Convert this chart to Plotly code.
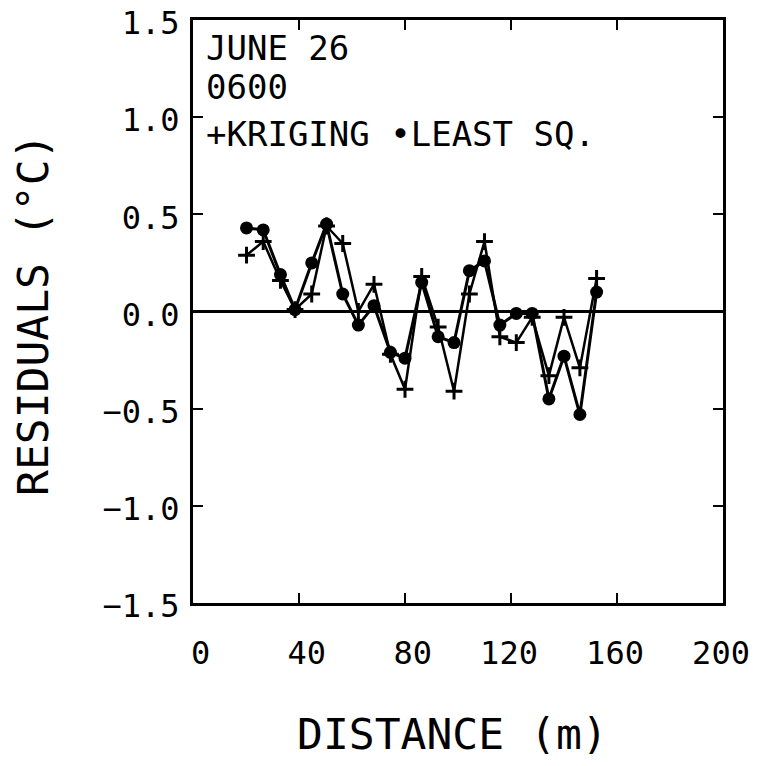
import plotly.graph_objects as go

distance = [20.2, 26.5, 33.0, 38.5, 44.8, 50.4, 56.5, 62.4, 68.3, 74.5, 80.0, 86.3,
            92.5, 98.5, 104.3, 110.0, 115.8, 122.0, 128.0, 134.3, 140.0, 146.0, 152.3]
kriging = [0.29, 0.36, 0.16, 0.01, 0.09, 0.44, 0.35, 0.00, 0.14, -0.22, -0.40, 0.18,
           -0.08, -0.41, 0.09, 0.36, -0.13, -0.16, -0.03, -0.33, -0.03, -0.29, 0.17]
least_sq = [0.43, 0.42, 0.19, 0.01, 0.25, 0.45, 0.09, -0.07, 0.03, -0.21, -0.24, 0.15,
            -0.13, -0.16, 0.21, 0.26, -0.07, -0.01, -0.01, -0.45, -0.23, -0.53, 0.10]

x_ticks = [0, 40, 80, 120, 160, 200]
x_tick_labels = ["\u00a00", "\u00a040", "\u00a080", "120", "160", "200"]
y_ticks = [-1.5, -1.0, -0.5, 0.0, 0.5, 1.0, 1.5]
y_tick_labels = ["−1.5", "−1.0", "−0.5", "0.0", "0.5", "1.0", "1.5"]

FONT = "DejaVu Sans Mono"

fig = go.Figure()
fig.add_trace(go.Scatter(
    x=distance, y=kriging, mode="lines+markers", name="KRIGING",
    line=dict(color="black", width=2.5),
    marker=dict(symbol="cross-thin", size=12, color="black",
                line=dict(color="black", width=3)),
))
fig.add_trace(go.Scatter(
    x=distance, y=least_sq, mode="lines+markers", name="LEAST SQ.",
    line=dict(color="black", width=3),
    marker=dict(symbol="circle", size=13, color="black"),
))

axis_common = dict(
    showgrid=False, showline=True, linecolor="black", linewidth=3,
    mirror="ticks", ticks="inside", ticklen=10, tickwidth=2, tickcolor="black",
    automargin=False, ticklabeloverflow="allow",
)

fig.update_xaxes(
    range=[0, 200], tickvals=x_ticks, ticktext=x_tick_labels,
    zeroline=False, ticklabelstandoff=20, ticklabelshift=-2,
    tickfont=dict(family=FONT, size=32, color="black"),
    **axis_common,
)
fig.update_yaxes(
    range=[-1.5, 1.5], tickvals=y_ticks, ticktext=y_tick_labels,
    zeroline=True, zerolinecolor="black", zerolinewidth=3,
    ticklabelstandoff=4, ticklabelshift=3,
    tickfont=dict(family=FONT, size=32, color="black"),
    **axis_common,
)

# Plot area as seen on the page (body adds an 8 px offset): x 193..723, y 20..603
def px_x(p):
    return (p - 193) / 530.0

def px_y(p):
    return (603 - p) / 583.0

title_font = dict(family=FONT, size=43, color="black")
fig.add_annotation(x=px_x(452), y=px_y(734), xref="paper", yref="paper",
                   text="DISTANCE (m)", showarrow=False,
                   xanchor="center", yanchor="middle", font=title_font)
fig.add_annotation(x=px_x(33), y=px_y(315), xref="paper", yref="paper",
                   text="RESIDUALS (°C)", showarrow=False, textangle=-90,
                   xanchor="center", yanchor="middle", font=title_font)

ann_font = dict(family=FONT, size=34, color="black")
for label, py in [("JUNE 26", 48), ("0600", 87), ("+KRIGING •LEAST SQ.", 134)]:
    fig.add_annotation(x=px_x(204), y=px_y(py), xref="paper", yref="paper", text=label,
                       showarrow=False, xanchor="left", yanchor="middle", font=ann_font)

fig.update_layout(
    width=742, height=750,
    margin=dict(l=185, r=27, t=12, b=155, autoexpand=False),
    paper_bgcolor="white", plot_bgcolor="white",
    showlegend=False,
)

fig.write_html("out.html")
